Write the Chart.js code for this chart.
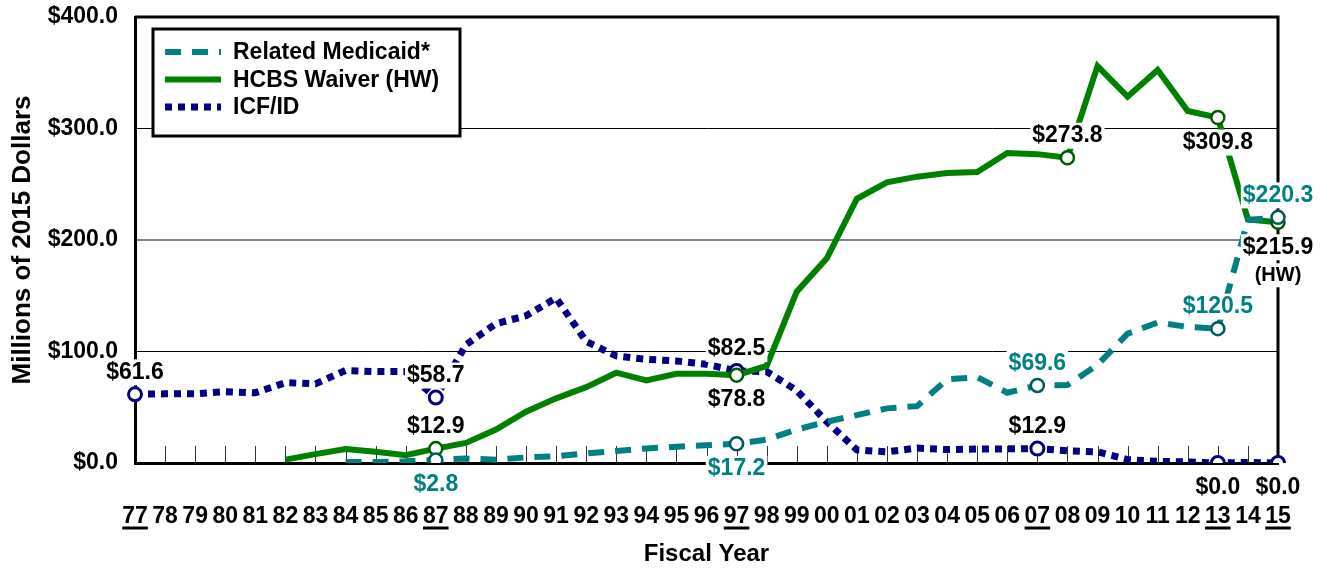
<!DOCTYPE html>
<html>
<head>
<meta charset="utf-8">
<script src="https://cdn.jsdelivr.net/npm/chart.js@4.4.0/dist/chart.umd.min.js"></script>
<style>
  html, body { margin: 0; padding: 0; background: #fff; }
</style>
</head>
<body>
<canvas id="myChart" width="1325" height="569"></canvas>
<script>
// fiscal years 1977 - 2015
var years = ['77','78','79','80','81','82','83','84','85','86','87','88','89','90','91','92','93','94','95','96',
             '97','98','99','00','01','02','03','04','05','06','07','08','09','10','11','12','13','14','15'];

// millions of 2015 dollars
var medicaid = [null, null, null, null, null, null, null, 1, 1, 1.5, 2.8, 4, 3, 5, 6, 8.7, 10.8, 13, 14.6, 16,
                17.2, 21, 30, 37, 43, 49, 51, 75, 77, 63, 69.6, 70, 88, 116, 126, 122, 120.5, 218, 220.3];
var hcbs = [null, null, null, null, null, 3, 8, 12.5, 10, 7, 12.9, 18, 30, 46, 58, 68, 81, 74, 80, 80,
            78.8, 87, 153.6, 183.6, 237, 251.7, 256.8, 260, 261, 278, 277, 273.8, 356, 328.5, 352.5, 315.7, 309.8, 218.5, 215.9];
var icf = [61.6, 62, 62, 64, 63, 72, 71, 83, 82, 82, 58.7, 106, 125, 132, 148, 109, 96, 93, 91.5, 88.5,
           82.5, 82, 65, 37, 11.7, 10, 13.4, 12, 12.5, 12.7, 12.9, 11, 10, 3, 1.5, 1, 0, 0.5, 0];

var underlinedYears = ['77', '87', '97', '07', '13', '15'];
var medicaidMarked = ['87', '97', '07', '13', '15'];
var hcbsMarked = ['87', '97', '08', '13', '15'];
var icfMarked = ['77', '87', '97', '07', '13', '15'];

// value labels: series index (0 medicaid, 1 hcbs, 2 icf), year, side of the point
var valueLabels = [
  {series: 2, year: '77', side: 'above'},
  {series: 2, year: '87', side: 'above'},
  {series: 1, year: '87', side: 'above'},
  {series: 0, year: '87', side: 'below'},
  {series: 2, year: '97', side: 'above'},
  {series: 1, year: '97', side: 'below'},
  {series: 0, year: '97', side: 'below'},
  {series: 0, year: '07', side: 'above'},
  {series: 2, year: '07', side: 'above'},
  {series: 1, year: '08', side: 'above'},
  {series: 1, year: '13', side: 'below'},
  {series: 0, year: '13', side: 'above'},
  {series: 2, year: '13', side: 'below'},
  {series: 0, year: '15', side: 'above'},
  {series: 1, year: '15', side: 'below', note: '(HW)'},
  {series: 2, year: '15', side: 'below'}
];

var TEAL = '#008080', GREEN = '#008000', NAVY = '#000080';
var FONT = "'Liberation Sans', Arial, Helvetica, sans-serif";

Chart.defaults.font.family = FONT;
Chart.defaults.font.weight = 'bold';
Chart.defaults.color = '#000';

function marked(list) {
  return function (c) { return list.indexOf(years[c.dataIndex]) >= 0 ? 6.5 : 0; };
}

var decor = {
  id: 'decor',
  beforeDatasetsDraw: function (chart) {
    var ctx = chart.ctx, a = chart.chartArea, xs = chart.scales.x;
    ctx.save();
    // small year ticks standing inside the plot
    ctx.strokeStyle = '#333';
    ctx.lineWidth = 1;
    for (var i = 1; i < years.length - 1; i++) {
      var x = Math.round(xs.getPixelForValue(i)) + 0.5;
      ctx.beginPath();
      ctx.moveTo(x, a.bottom);
      ctx.lineTo(x, a.bottom - 17);
      ctx.stroke();
    }
    // top and right frame
    ctx.strokeStyle = '#000';
    ctx.lineWidth = 3;
    ctx.beginPath();
    ctx.moveTo(a.left, a.top);
    ctx.lineTo(a.right, a.top);
    ctx.lineTo(a.right, a.bottom);
    ctx.stroke();
    ctx.restore();
  },
  afterDatasetsDraw: function (chart) {
    var ctx = chart.ctx;
    ctx.save();
    ctx.textAlign = 'center';
    ctx.textBaseline = 'middle';
    valueLabels.forEach(function (lab) {
      var ds = chart.data.datasets[lab.series];
      var idx = years.indexOf(lab.year);
      var pt = chart.getDatasetMeta(lab.series).data[idx];
      var text = '$' + ds.data[idx].toFixed(1);
      var y = pt.y + (lab.side === 'above' ? -22 : 25);
      ctx.font = 'bold 23px ' + FONT;
      var w = ctx.measureText(text).width;
      ctx.fillStyle = '#fff';
      ctx.fillRect(pt.x - w / 2 - 2, y - 13, w + 4, 26);
      ctx.fillStyle = lab.series === 0 ? TEAL : '#000';
      ctx.fillText(text, pt.x, y);
      if (lab.note) {
        ctx.font = 'bold 20px ' + FONT;
        var w2 = ctx.measureText(lab.note).width;
        ctx.fillStyle = '#fff';
        ctx.fillRect(pt.x - w2 / 2 - 2, y + 16, w2 + 4, 24);
        ctx.fillStyle = '#000';
        ctx.fillText(lab.note, pt.x, y + 28);
      }
    });
    ctx.restore();
  },
  afterDraw: function (chart) {
    var ctx = chart.ctx, xs = chart.scales.x;
    ctx.save();
    // underline the decade marks
    ctx.font = 'bold 23px ' + FONT;
    ctx.strokeStyle = '#000';
    ctx.lineWidth = 3;
    underlinedYears.forEach(function (yr) {
      var x = xs.getPixelForValue(years.indexOf(yr));
      var w = ctx.measureText(yr).width;
      ctx.beginPath();
      ctx.moveTo(x - w / 2, xs.top + 65);
      ctx.lineTo(x + w / 2, xs.top + 65);
      ctx.stroke();
    });
    // boxed legend
    var left = 153, top = 29, width = 307, height = 107;
    ctx.fillStyle = '#fff';
    ctx.fillRect(left, top, width, height);
    ctx.strokeStyle = '#000';
    ctx.lineWidth = 3;
    ctx.strokeRect(left, top, width, height);
    ctx.font = 'bold 23px ' + FONT;
    ctx.textAlign = 'left';
    ctx.textBaseline = 'middle';
    chart.data.datasets.forEach(function (ds, i) {
      var y = top + 23 + i * 27.5;
      ctx.strokeStyle = ds.borderColor;
      ctx.lineWidth = ds.borderWidth;
      ctx.lineCap = 'butt';
      ctx.setLineDash(ds.borderDash || []);
      ctx.beginPath();
      ctx.moveTo(165, y);
      ctx.lineTo(221, y);
      ctx.stroke();
      ctx.setLineDash([]);
      ctx.fillStyle = '#000';
      ctx.fillText(ds.label, 233, y + 1);
    });
    ctx.restore();
  }
};

var ctx = document.getElementById('myChart').getContext('2d');
var chart = new Chart(ctx, {
  type: 'line',
  data: {
    labels: years,
    datasets: [{
      label: 'Related Medicaid*',
      data: medicaid,
      borderColor: TEAL,
      borderWidth: 6,
      borderDash: [16, 11],
      borderCapStyle: 'butt',
      pointRadius: marked(medicaidMarked),
      pointBackgroundColor: '#fff',
      pointBorderColor: '#005858',
      pointBorderWidth: 2.5,
      fill: false
    }, {
      label: 'HCBS Waiver (HW)',
      data: hcbs,
      borderColor: GREEN,
      borderWidth: 6,
      pointRadius: marked(hcbsMarked),
      pointBackgroundColor: '#fff',
      pointBorderColor: '#005a00',
      pointBorderWidth: 2.5,
      fill: false
    }, {
      label: 'ICF/ID',
      data: icf,
      borderColor: NAVY,
      borderWidth: 7,
      borderDash: [7, 6],
      borderCapStyle: 'butt',
      pointRadius: marked(icfMarked),
      pointBackgroundColor: '#fff',
      pointBorderColor: NAVY,
      pointBorderWidth: 3,
      fill: false
    }]
  },
  options: {
    responsive: false,
    animation: false,
    devicePixelRatio: 1,
    layout: { padding: { top: 17, right: 47, bottom: 0, left: 0 } },
    plugins: {
      legend: { display: false },
      tooltip: { enabled: false }
    },
    scales: {
      x: {
        offset: false,
        grid: { display: false, drawTicks: false },
        border: { display: true, color: '#000', width: 3 },
        ticks: { autoSkip: false, maxRotation: 0, minRotation: 0, padding: 40, color: '#000', font: { size: 23, weight: 'bold' } },
        title: { display: true, text: 'Fiscal Year', color: '#000', font: { size: 24, weight: 'bold' }, padding: 0 },
        afterFit: function (s) { s.height = 106; s.paddingLeft = 0; s.paddingRight = 0; }
      },
      y: {
        min: 0,
        max: 400,
        grid: {
          drawTicks: false,
          color: function (c) { return c.tick && c.tick.value === 200 ? '#808080' : '#000'; },
          lineWidth: function (c) { return c.tick && c.tick.value === 200 ? 2 : 1; }
        },
        border: { color: '#000', width: 3 },
        ticks: {
          stepSize: 100,
          padding: 17,
          color: '#000',
          font: { size: 23, weight: 'bold' },
          callback: function (v) { return '$' + v.toFixed(1); }
        },
        title: { display: true, text: 'Millions of 2015 Dollars', color: '#000', font: { size: 26, weight: 'bold' }, padding: { top: 7, bottom: 0 } },
        afterFit: function (s) { s.width = 135; s.paddingTop = 0; s.paddingBottom = 0; }
      }
    }
  },
  plugins: [decor]
});
</script>
</body>
</html>
